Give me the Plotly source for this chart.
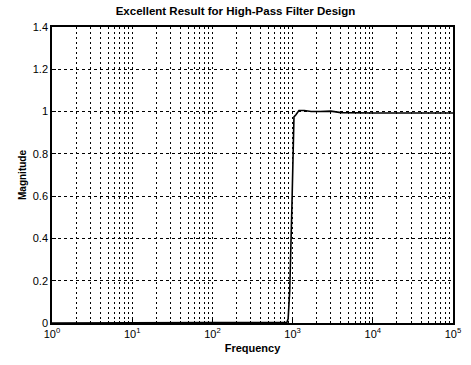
import plotly.graph_objects as go

freq = [1, 10, 100, 500, 850, 880, 920, 980, 1040, 1100, 1200, 1400, 1700, 2200, 3000, 4000, 6000, 10000, 30000, 100000]
magnitude = [0.0, 0.0, 0.0, 0.0, 0.003, 0.02, 0.15, 0.55, 0.975, 0.985, 1.005, 1.005, 1.0, 1.0, 1.002, 0.995, 0.993, 0.993, 0.993, 0.993]

x_tickvals = [1, 10, 100, 1000, 10000, 100000]
x_ticktext = ["10<sup>0</sup>", "10<sup>1</sup>", "10<sup>2</sup>", "10<sup>3</sup>", "10<sup>4</sup>", "10<sup>5</sup>"]
y_tickvals = [0, 0.2, 0.4, 0.6, 0.8, 1.0, 1.2, 1.4]
y_ticktext = ["0", "0.2", "0.4", "0.6", "0.8", "1", "1.2", "1.4"]

fig = go.Figure()
fig.add_trace(go.Scatter(x=freq, y=magnitude, mode="lines",
                         line=dict(color="black", width=1.6), showlegend=False,
                         hoverinfo="skip"))

font = dict(family="Liberation Sans, Arial, sans-serif", color="black", size=10)

fig.update_layout(
    width=471, height=365,
    margin=dict(l=52, r=10, t=27, b=42),
    paper_bgcolor="white", plot_bgcolor="white",
    font=font,
    title=dict(text="<b>Excellent Result for High-Pass Filter Design</b>",
               x=0.5, xanchor="center", y=0.982, yanchor="top",
               font=dict(size=11.5, family="Liberation Sans, Arial, sans-serif")),
    xaxis=dict(type="log", range=[0, 5], tickvals=x_tickvals, ticktext=x_ticktext,
               showline=True, linecolor="black", linewidth=1.5, mirror=True,
               ticks="inside", ticklen=4, tickcolor="black",
               showgrid=True, gridcolor="black", gridwidth=1, griddash="2px,3px",
               minor=dict(dtick="D1", showgrid=True, gridcolor="black", gridwidth=1,
                          griddash="2px,3px", ticks="inside", ticklen=2, tickcolor="black"),
               zeroline=False,
               title=dict(text="<b>Frequency</b>", standoff=5, font=dict(size=11)),
               tickfont=dict(size=11)),
    yaxis=dict(range=[0, 1.4], tickvals=y_tickvals, ticktext=y_ticktext,
               showline=True, linecolor="black", linewidth=1.5, mirror=True,
               ticks="inside", ticklen=4, tickcolor="black",
               showgrid=True, gridcolor="black", gridwidth=1, griddash="3px,3px",
               zeroline=False,
               title=dict(text="<b>Magnitude</b>", standoff=4, font=dict(size=10)),
               tickfont=dict(size=11)),
)

fig.write_html("out.html", config={"displayModeBar": False},
               post_script="document.body.style.margin='0';document.body.style.overflow='hidden';")
